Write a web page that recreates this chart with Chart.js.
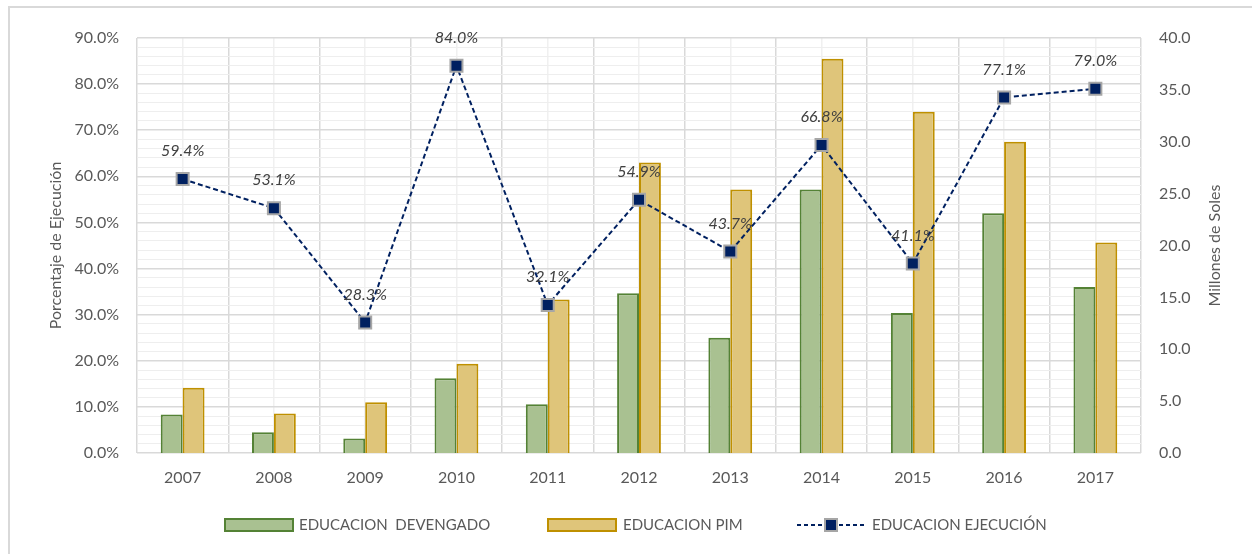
<!DOCTYPE html>
<html>
<head>
<meta charset="utf-8">
<script src="https://cdn.jsdelivr.net/npm/chart.js@4.4.1/dist/chart.umd.min.js"></script>
<style>
  html, body { margin: 0; padding: 0; background: #fff; }
  #wrap { position: relative; width: 1252px; height: 554px; }
  #frame { position: absolute; left: 8px; top: 6px; right: 0; bottom: 0;
           border-top: 2px solid #d9d9d9; border-left: 2px solid #d9d9d9; }
  canvas { position: absolute; left: 0; top: 0; }
</style>
</head>
<body>
<div id="wrap">
  <div id="frame"></div>
  <canvas id="chart" width="1252" height="554"></canvas>
</div>
<script>
const years = ['2007', '2008', '2009', '2010', '2011', '2012', '2013', '2014', '2015', '2016', '2017'];
const devengado = [3.7, 2.0, 1.4, 7.2, 4.7, 15.4, 11.1, 25.4, 13.5, 23.1, 16.0];
const pim = [6.3, 3.8, 4.9, 8.6, 14.8, 28.0, 25.4, 38.0, 32.9, 30.0, 20.3];
const ejecucion = [59.4, 53.1, 28.3, 84.0, 32.1, 54.9, 43.7, 66.8, 41.1, 77.1, 79.0];

const seriesNames = ['EDUCACION  DEVENGADO', 'EDUCACION PIM', 'EDUCACION EJECUCIÓN'];
const rightTitle = 'Millones de Soles';

const FONT = 'Lato, "Open Sans", sans-serif';
const TXT = '#595959';

// etiquetas de porcentaje sobre los puntos
const pointLabels = {
  id: 'pointLabels',
  afterDatasetsDraw(chart) {
    const meta = chart.getDatasetMeta(2);
    const ctx = chart.ctx;
    ctx.save();
    ctx.font = 'italic 16px ' + FONT;
    ctx.fillStyle = '#404040';
    ctx.textAlign = 'center';
    ctx.textBaseline = 'middle';
    meta.data.forEach((pt, i) => {
      ctx.fillText(ejecucion[i].toFixed(1) + '%', pt.x, pt.y - 28);
    });
    ctx.restore();
  }
};

// leyenda y titulo derecho dibujados a mano
const legendDraw = {
  id: 'legendDraw',
  afterDraw(chart) {
    const ctx = chart.ctx;
    const y = 525;
    ctx.save();
    ctx.font = '15px ' + FONT;
    ctx.textBaseline = 'middle';

    ctx.fillStyle = '#a9c191';
    ctx.strokeStyle = '#548235';
    ctx.lineWidth = 2;
    ctx.fillRect(225, 519, 68, 12);
    ctx.strokeRect(225, 519, 68, 12);
    ctx.fillStyle = TXT;
    ctx.fillText(seriesNames[0], 299, y);

    ctx.fillStyle = '#dfc57a';
    ctx.strokeStyle = '#bf9000';
    ctx.fillRect(548, 519, 68, 12);
    ctx.strokeRect(548, 519, 68, 12);
    ctx.fillStyle = TXT;
    ctx.fillText(seriesNames[1], 623, y);

    ctx.strokeStyle = '#002060';
    ctx.lineWidth = 2;
    ctx.setLineDash([4, 3]);
    ctx.beginPath();
    ctx.moveTo(797, y);
    ctx.lineTo(865, y);
    ctx.stroke();
    ctx.setLineDash([]);
    ctx.fillStyle = '#002060';
    ctx.strokeStyle = '#a6a6a6';
    ctx.fillRect(825, y - 6, 12, 12);
    ctx.strokeRect(825, y - 6, 12, 12);
    ctx.fillStyle = TXT;
    ctx.fillText(seriesNames[2], 872, y);

    // titulo del eje derecho, leido de abajo hacia arriba
    const ya = chart.scales.y1;
    ctx.translate(1215, (ya.top + ya.bottom) / 2);
    ctx.rotate(-Math.PI / 2);
    ctx.font = '16px ' + FONT;
    ctx.textAlign = 'center';
    ctx.fillText(rightTitle, 0, 0);
    ctx.restore();
  }
};

new Chart(document.getElementById('chart').getContext('2d'), {
  data: {
    labels: years,
    datasets: [
      {
        type: 'bar',
        label: seriesNames[0],
        data: devengado,
        yAxisID: 'y1',
        backgroundColor: '#a9c191',
        borderColor: '#548235',
        borderWidth: 2,
        borderSkipped: 'bottom',
        categoryPercentage: 0.48,
        barPercentage: 1.0,
        order: 2
      },
      {
        type: 'bar',
        label: seriesNames[1],
        data: pim,
        yAxisID: 'y1',
        backgroundColor: '#dfc57a',
        borderColor: '#bf9000',
        borderWidth: 2,
        borderSkipped: 'bottom',
        categoryPercentage: 0.48,
        barPercentage: 1.0,
        order: 2
      },
      {
        type: 'line',
        label: seriesNames[2],
        data: ejecucion,
        yAxisID: 'y',
        borderColor: '#002060',
        borderWidth: 2,
        borderDash: [5, 3],
        fill: false,
        tension: 0,
        pointStyle: 'rect',
        pointRadius: 8.5,
        pointHoverRadius: 8.5,
        pointBackgroundColor: '#002060',
        pointBorderColor: '#a6a6a6',
        pointBorderWidth: 2,
        order: 1
      }
    ]
  },
  options: {
    responsive: false,
    animation: false,
    layout: { padding: { left: 10, right: 10, top: 38, bottom: 61 } },
    plugins: {
      legend: { display: false },
      tooltip: { enabled: false }
    },
    scales: {
      x: {
        offset: true,
        grid: { offset: true, color: '#d9d9d9', lineWidth: 1.5, drawTicks: false },
        border: { display: false },
        ticks: { color: TXT, font: { family: FONT, size: 16 }, padding: 15 },
        afterFit: s => { s.height = 40; }
      },
      x2: {
        type: 'category',
        labels: years,
        position: 'bottom',
        offset: true,
        grid: { offset: false, color: '#f0f0f0', lineWidth: 1.5, drawTicks: false },
        border: { display: false },
        ticks: { display: false },
        afterFit: s => { s.height = 0; }
      },
      y: {
        position: 'left',
        min: 0,
        max: 90,
        ticks: {
          stepSize: 2,
          autoSkip: false,
          color: TXT,
          font: { family: FONT, size: 16 },
          padding: 18,
          callback: v => (v % 10 === 0 ? v.toFixed(1) + '%' : '')
        },
        grid: {
          drawTicks: false,
          color: c => (c.tick && c.tick.value % 10 === 0 ? '#d9d9d9' : '#eeeeee'),
          lineWidth: c => (c.tick && c.tick.value % 10 === 0 ? 1.5 : 1)
        },
        border: { display: false },
        title: {
          display: true,
          text: 'Porcentaje de Ejecución',
          color: TXT,
          font: { family: FONT, size: 16 },
          padding: { top: 36, bottom: 0 }
        },
        afterFit: s => { s.width = 127; }
      },
      y1: {
        position: 'right',
        min: 0,
        max: 40,
        ticks: {
          stepSize: 5,
          color: TXT,
          font: { family: FONT, size: 16 },
          padding: 18,
          callback: v => v.toFixed(1)
        },
        grid: { display: false, drawTicks: false },
        border: { display: false },
        afterFit: s => { s.width = 101; }
      }
    }
  },
  plugins: [pointLabels, legendDraw]
});
</script>
</body>
</html>
